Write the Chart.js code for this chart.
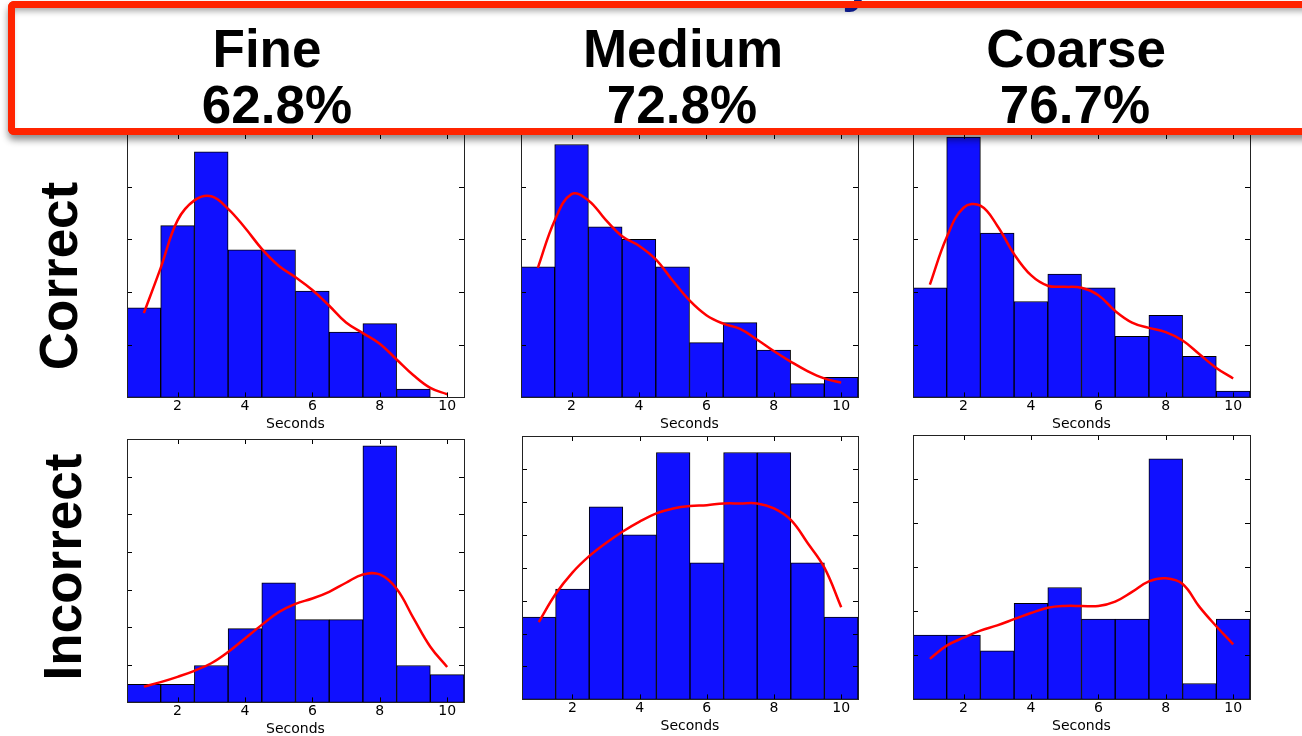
<!DOCTYPE html>
<html>
<head>
<meta charset="utf-8">
<script src="https://cdn.jsdelivr.net/npm/chart.js@4/dist/chart.umd.min.js"></script>
<style>
  html, body { margin: 0; padding: 0; background: #fff; }
  body { width: 1302px; height: 736px; position: relative; overflow: hidden;
         font-family: "Liberation Sans", Arial, sans-serif; }
  .panel { position: absolute; }
  .hbox { position: absolute; left: 8px; top: 1px; width: 1330px; height: 134px; box-sizing: border-box;
          border: 7px solid #ff2400; border-radius: 6px; background: #fff; z-index: 5;
          box-shadow: 0 5px 7px rgba(0,0,0,0.45), inset 0 6px 6px -3px rgba(0,0,0,0.35); }
  .hborder { position: absolute; left: 8px; top: 1px; width: 1330px; height: 134px; box-sizing: border-box;
          border: 7px solid #ff2400; border-radius: 6px; background: transparent; z-index: 7; }
  .ytail { position: absolute; left: 842px; top: -47px; font-size: 56px; line-height: 56px; font-weight: bold;
           color: #0c1a86; z-index: 6; }
  .htext { position: absolute; font-weight: bold; font-size: 53px; line-height: 53px; white-space: nowrap;
           transform: translateX(-50%); color: #000; z-index: 8; }
  .rowlabel { position: absolute; font-weight: bold; font-size: 53px; line-height: 53px; white-space: nowrap;
              transform: translate(-50%, -50%) rotate(-90deg); color: #000; }
</style>
</head>
<body>
<div class="hbox"></div>
<div class="ytail">y</div>
<div class="hborder"></div>
<div class="htext" style="left:267px; top:22px;">Fine</div>
<div class="htext" style="left:277px; top:78px;">62.8%</div>
<div class="htext" style="left:683px; top:22px;">Medium</div>
<div class="htext" style="left:682px; top:78px;">72.8%</div>
<div class="htext" style="left:1076px; top:22px;">Coarse</div>
<div class="htext" style="left:1075px; top:78px;">76.7%</div>
<div class="rowlabel" style="left:58px; top:276px;">Correct</div>
<div class="rowlabel" style="left:62px; top:567px;">Incorrect</div>

<script>
// Histogram bins (response time in seconds, one-second bins centred on whole seconds)
const binCenters = [1, 2, 3, 4, 5, 6, 7, 8, 9, 10];
const xTickValues = [2, 4, 6, 8, 10];
// Sample points of the kernel density curves
const kdeX = [1, 1.5, 2, 2.5, 3, 3.5, 4, 4.5, 5, 5.5, 6, 6.5, 7, 7.5, 8, 8.5, 9, 9.5, 10];

// Correct answers: normalised histogram heights and density curves
const fineCorrectHist   = [0.085, 0.163, 0.233, 0.140, 0.140, 0.101, 0.062, 0.070, 0.008, 0];
const fineCorrectKde    = [0.080, 0.123, 0.168, 0.187, 0.191, 0.179, 0.161, 0.141, 0.125, 0.114,
                           0.102, 0.087, 0.071, 0.061, 0.051, 0.036, 0.021, 0.009, 0.003];
const mediumCorrectHist = [0.124, 0.240, 0.162, 0.150, 0.124, 0.052, 0.071, 0.045, 0.013, 0.019];
const mediumCorrectKde  = [0.123, 0.168, 0.193, 0.187, 0.169, 0.153, 0.144, 0.131, 0.111, 0.092,
                           0.078, 0.070, 0.065, 0.055, 0.044, 0.034, 0.025, 0.018, 0.014];
const coarseCorrectHist = [0.104, 0.247, 0.156, 0.091, 0.117, 0.104, 0.058, 0.078, 0.039, 0.006];
const coarseCorrectKde  = [0.107, 0.152, 0.180, 0.182, 0.163, 0.136, 0.116, 0.106, 0.105, 0.104,
                           0.097, 0.082, 0.071, 0.066, 0.062, 0.054, 0.041, 0.028, 0.018];

// Incorrect answers
const fineIncorrectHist   = [0.024, 0.024, 0.049, 0.098, 0.159, 0.110, 0.110, 0.341, 0.049, 0.037];
const fineIncorrectKde    = [0.021, 0.027, 0.034, 0.042, 0.052, 0.067, 0.085, 0.103, 0.120, 0.131,
                             0.138, 0.147, 0.159, 0.170, 0.170, 0.151, 0.112, 0.074, 0.047];
const mediumIncorrectHist = [0.050, 0.067, 0.117, 0.100, 0.150, 0.083, 0.150, 0.150, 0.083, 0.050];
const mediumIncorrectKde  = [0.047, 0.064, 0.077, 0.087, 0.095, 0.102, 0.108, 0.113, 0.116, 0.1175,
                             0.118, 0.119, 0.119, 0.119, 0.116, 0.109, 0.095, 0.080, 0.056];
const coarseIncorrectHist = [0.073, 0.073, 0.055, 0.109, 0.127, 0.091, 0.091, 0.273, 0.018, 0.091];
const coarseIncorrectKde  = [0.046, 0.061, 0.070, 0.078, 0.084, 0.091, 0.098, 0.104, 0.106, 0.106,
                             0.106, 0.111, 0.122, 0.134, 0.1375, 0.131, 0.105, 0.083, 0.0625];

// Y-axis limits and tick spacing for each panel
const yMaxes  = [0.25, 0.25, 0.25, 0.35, 0.16, 0.30];
const ySteps  = [0.05, 0.05, 0.05, 0.05, 0.02, 0.05];

const xTitle = 'Seconds';

// Plot-area rectangles of the six panels on the page
const plotAreas = [
  { left: 127, right: 464, top: 134, bottom: 397 },
  { left: 521, right: 858, top: 134, bottom: 397 },
  { left: 913, right: 1250, top: 134, bottom: 397 },
  { left: 127, right: 464, top: 439, bottom: 702 },
  { left: 522, right: 858, top: 436, bottom: 699 },
  { left: 913, right: 1250, top: 435, bottom: 699 }
];

// Frame with inward-pointing ticks on all four sides
const frameTicks = {
  id: 'frameTicks',
  afterDatasetsDraw(chart, args, opts) {
    const { ctx, chartArea: a, scales } = chart;
    const xs = scales.x, ys = scales.y;
    const L = a.left, R = a.right, T = a.top, B = a.bottom;
    const len = 5;
    ctx.save();
    ctx.strokeStyle = '#000';
    ctx.lineWidth = 1;
    ctx.beginPath();
    xTickValues.forEach(v => {
      const px = Math.round(xs.getPixelForValue(v)) + 0.5;
      ctx.moveTo(px, B); ctx.lineTo(px, B - len);
      ctx.moveTo(px, T); ctx.lineTo(px, T + len);
    });
    const n = Math.round(opts.max / opts.step);
    for (let i = 1; i < n; i++) {
      const py = Math.round(ys.getPixelForValue(i * opts.step)) + 0.5;
      ctx.moveTo(L, py); ctx.lineTo(L + len, py);
      ctx.moveTo(R, py); ctx.lineTo(R - len, py);
    }
    ctx.stroke();
    ctx.strokeStyle = '#222';
    ctx.strokeRect(Math.round(L) + 0.5, Math.round(T) + 0.5, Math.round(R - L), Math.round(B - T));
    ctx.restore();
  }
};

function makePanel(idx, hist, kde) {
  const area = plotAreas[idx];
  const padL = 20, padR = 20, padT = 10, axisH = 36;
  const w = area.right - area.left + padL + padR;
  const h = area.bottom - area.top + padT + axisH;
  const wrap = document.createElement('div');
  wrap.className = 'panel';
  wrap.style.left = (area.left - padL) + 'px';
  wrap.style.top = (area.top - padT) + 'px';
  wrap.style.width = w + 'px';
  wrap.style.height = h + 'px';
  const canvas = document.createElement('canvas');
  canvas.width = w; canvas.height = h;
  canvas.style.width = w + 'px'; canvas.style.height = h + 'px';
  wrap.appendChild(canvas);
  document.body.appendChild(wrap);

  new Chart(canvas, {
    type: 'bar',
    data: {
      datasets: [
        {
          type: 'line',
          data: kdeX.map((x, i) => ({ x: x, y: kde[i] })),
          borderColor: '#ff0000',
          borderWidth: 2.5,
          pointRadius: 0,
          tension: 0.4,
          fill: false,
          order: 0
        },
        {
          type: 'bar',
          data: binCenters.map((x, i) => ({ x: x, y: hist[i] })),
          backgroundColor: '#1010ff',
          borderColor: '#000',
          borderWidth: 1,
          borderSkipped: false,
          barPercentage: 1,
          categoryPercentage: 1,
          order: 1
        }
      ]
    },
    options: {
      responsive: false,
      animation: false,
      layout: { padding: { left: padL, right: padR, top: padT, bottom: 0 } },
      plugins: {
        legend: { display: false },
        tooltip: { enabled: false },
        frameTicks: { max: yMaxes[idx], step: ySteps[idx] }
      },
      scales: {
        x: {
          type: 'linear',
          min: 0.5,
          max: 10.5,
          offset: false,
          grid: { display: false, drawTicks: false },
          border: { display: false },
          afterBuildTicks: s => { s.ticks = xTickValues.map(v => ({ value: v })); },
          ticks: {
            autoSkip: false, maxRotation: 0, padding: 1, color: '#000',
            font: { family: 'DejaVu Sans', size: 14 }
          },
          title: {
            display: true, text: xTitle, color: '#000',
            padding: { top: 0, bottom: 0 },
            font: { family: 'DejaVu Sans', size: 14 }
          }
        },
        y: {
          type: 'linear',
          min: 0,
          max: yMaxes[idx],
          display: false,
          ticks: { stepSize: ySteps[idx] }
        }
      }
    },
    plugins: [frameTicks]
  });
}

makePanel(0, fineCorrectHist, fineCorrectKde);
makePanel(1, mediumCorrectHist, mediumCorrectKde);
makePanel(2, coarseCorrectHist, coarseCorrectKde);
makePanel(3, fineIncorrectHist, fineIncorrectKde);
makePanel(4, mediumIncorrectHist, mediumIncorrectKde);
makePanel(5, coarseIncorrectHist, coarseIncorrectKde);
</script>
</body>
</html>
